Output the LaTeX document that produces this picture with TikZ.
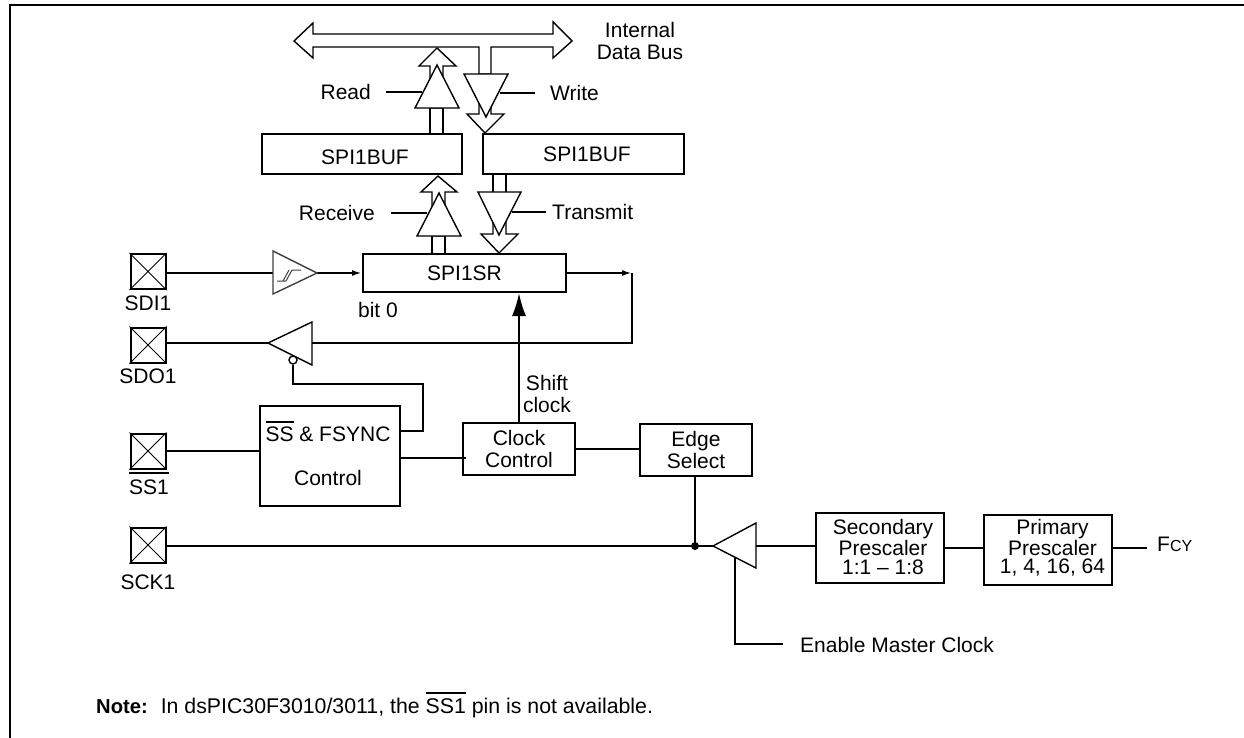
\documentclass[tikz,border=0pt]{standalone}
\usepackage{fontspec}
\setmainfont{Liberation Sans}
\usetikzlibrary{arrows.meta}
\newcommand{\barred}[2]{\setbox0=\hbox{#2}\rlap{\rule[#1]{\wd0}{1.8pt}}\box0\relax}
\tikzset{
  wire/.style={line width=2pt},
  thinw/.style={line width=1.4pt},
  block/.style={draw, line width=2pt, inner sep=0pt, fill=white, align=center, font=\fontsize{21}{21.5}\selectfont},
  pin/.style={draw, line width=2pt, inner sep=0pt, minimum width=35pt, minimum height=35pt},
  lbl/.style={inner sep=0pt, align=center, font=\fontsize{21}{21.5}\selectfont},
  tightlbl/.style={inner sep=0pt, align=center, font=\fontsize{21}{18.7}\selectfont},
  hollow/.style={draw, line width=1.4pt, fill=white, line join=miter},
  smallhead/.style={-{Latex[length=10pt,width=6pt]}},
}
\begin{document}
\begin{tikzpicture}[x=1pt,y=-1pt]
    \useasboundingbox (0,0) rectangle (1244,738);
    \draw[line width=2pt] (10,738) -- (10,5.5) -- (1244,5.5);

    % boxes
    \node[block, minimum width=200pt, minimum height=40pt] (bufr) at (362,154) {};
    \node[block, minimum width=201pt, minimum height=40pt] (bufw) at (583.5,154) {};
    \node[lbl] (bufrtext) at (365,157) {SPI1BUF};
    \node[lbl] (bufwtext) at (587,154) {SPI1BUF};
    \node[block, minimum width=203pt, minimum height=38pt] (sr) at (464.5,273) {SPI1SR};
    \node[block, minimum width=140pt, minimum height=100pt] (ssctl) at (330,456) {};
    \node[lbl, anchor=base] (sstext) at (328,441.5) {\barred{18.5pt}{SS} \& FSYNC};
    \node[lbl] (ctltext) at (328,478) {Control};
    \node[block, minimum width=112pt, minimum height=52pt] (clk) at (519,449) {Clock\\Control};
    \node[block, minimum width=112pt, minimum height=52pt] (edge) at (696,450) {Edge\\Select};
    \node[block, minimum width=128pt, minimum height=70pt] (sec) at (880,548) {};
    \node[block, minimum width=128pt, minimum height=70pt] (pri) at (1048,550) {};
    \node[tightlbl] (sectext) at (883,547) {Secondary\\Prescaler\\1:1 -- 1:8};
    \node[tightlbl] (pritext) at (1052.5,548) {Primary\\Prescaler\\1, 4, 16, 64};

    % pins
    \node[pin] (sdi) at (148,271.5) {};
    \node[pin] (sdo) at (148,345) {};
    \node[pin] (ss) at (148,451) {};
    \node[pin] (sck) at (148,545) {};
    \foreach \p in {sdi,sdo,ss,sck} \draw[line width=1pt] (\p.north west) -- (\p.south east) (\p.north east) -- (\p.south west);
    \node[lbl, anchor=base] (sdilbl) at (148,310.5) {SDI1};
    \node[lbl, anchor=base] (sdolbl) at (148,383.5) {SDO1};
    \node[lbl, anchor=base] (sslbl) at (149,494.5) {\barred{20.5pt}{SS1}};
    \node[lbl, anchor=base] (scklbl) at (148,589.5) {SCK1};

    % data bus
    \draw[hollow] (294,41) -- (313,23) -- (313,34) -- (553,34) -- (553,22) -- (572,41) -- (553,58) -- (553,47)
      -- (491,47) -- (491,74) -- (479,74) -- (479,47) -- (313,47) -- (313,58) -- cycle;
    \node[lbl] (bustext) at (640,41) {Internal\\Data Bus};

    % read path
    \coordinate (rdtip) at (437,48);
    \draw[hollow] (rdtip) -- (456,66) -- (443,66) -- (443,108) -- (430,108) -- (430,66) -- (419,66) -- cycle;
    \draw[wire] (430,108) -- (430,134) (443,108) -- (443,134);
    \draw[hollow] (437,65) -- (459,108) -- (415,108) -- cycle;
    \coordinate (rdin) at (422,92);
    \node[lbl, anchor=east] (rdtext) at (371,92) {Read};
    \draw[wire] (386,92) -- (rdin);

    % write path
    \coordinate (wrtip) at (485,133);
    \draw[hollow] (wrtip) -- (467,114) -- (479,114) -- (479,100) -- (491,100) -- (491,114) -- (504,114) -- cycle;
    \draw[hollow] (464,74) -- (508,74) -- (486,117) -- cycle;
    \coordinate (wrin) at (500,93);
    \node[lbl, anchor=west] (wrtext) at (550,93) {Write};
    \draw[wire] (wrin) -- (535,93);

    % receive path
    \coordinate (rxtip) at (438,176);
    \draw[hollow] (rxtip) -- (457,192) -- (445,192) -- (445,236) -- (432,236) -- (432,192) -- (421,192) -- cycle;
    \draw[wire] (432,236) -- (432,254) (445,236) -- (445,254);
    \draw[hollow] (439,193) -- (461,236) -- (417,236) -- cycle;
    \coordinate (rxin) at (427,213);
    \node[lbl, anchor=east] (rxtext) at (375,213) {Receive};
    \draw[wire] (391,213) -- (rxin);

    % transmit path
    \coordinate (txtip) at (499,253);
    \draw[wire] (493,174) -- (493,192) (506,174) -- (506,192);
    \draw[hollow] (txtip) -- (481,234) -- (493,234) -- (493,220) -- (506,220) -- (506,234) -- (518,234) -- cycle;
    \draw[hollow] (478,192) -- (521,192) -- (499,235) -- cycle;
    \coordinate (txin) at (512,212);
    \node[lbl, anchor=west] (txtext) at (552,212) {Transmit};
    \draw[wire] (txin) -- (546,212);

    % schmitt input
    \coordinate (stin) at (273,273);
    \coordinate (stout) at (317,273);
    \draw[wire] (sdi.east |- stin) -- (stin);
    \draw[wire, smallhead] (stout) -- (sr.west |- stout);
    \draw[thinw, draw=black!75] (stin |- 0,251) -- (stout) -- (stin |- 0,294) -- cycle;
    \draw[line width=1pt, draw=black!75] (277,281) -- (286,281) -- (292,270) -- (301,270) (283,281) -- (289,270);

    % output loop
    \coordinate (srcorner) at (632,273);
    \coordinate (sdobase) at (312,343);
    \coordinate (sdotip) at (268,343);
    \draw[wire, smallhead] (sr.east |- srcorner) -- (srcorner);
    \draw[wire] (srcorner) -- (srcorner |- sdobase) -- (sdobase);
    \draw[wire] (sdotip) -- (sdotip -| sdo.east);
    \draw[thinw] (sdotip) -- (312,322) -- (312,365) -- cycle;
    \node[draw, thinw, circle, fill=white, inner sep=0pt, minimum size=8pt] (oe) at (293,360) {};
    \coordinate (sstap) at (ssctl.east |- 0,431);
    \draw[wire] (oe.south) -- (293,384) -- (423,384) -- (423,431) -- (sstap);

    % clock section
    \draw[wire] (ss.east) -- (ssctl.west |- ss.east);
    \draw[wire] (ssctl.east |- 0,458) -- (466,458);
    \draw[wire] (clk.east |- 0,449) -- (edge.west |- 0,449);
    \draw[wire, -{Latex[length=23pt,width=14pt]}] (clk.north) -- (sr.south -| clk.north);
    \node[lbl] (shifttext) at (547,394) {Shift\\clock};
    \node[lbl] (bittext) at (378,310) {bit 0};

    \coordinate (mtip) at (713,546);
    \coordinate (mbase) at (756,546);
    \coordinate (mdot) at (695,546);
    \coordinate (enturn) at (735,644);
    \coordinate (enend) at (783,644);
    \draw[wire] (sck.east |- mtip) -- (mtip);
    \draw[wire] (edge.south -| mdot) -- (mdot);
    \fill (mdot) circle (4pt);
    \draw[thinw] (mtip) -- (mbase |- 0,523) -- (mbase |- 0,568) -- cycle;
    \draw[wire] (mbase) -- (sec.west |- mbase);
    \draw[wire] (735,558) -- (enturn) -- (enend);
    \node[lbl, anchor=west] (entext) at (800,645) {Enable Master Clock};
    \draw[wire] (sec.east |- 0,548) -- (pri.west |- 0,548);
    \coordinate (fcy) at (1147,548);
    \draw[wire] (pri.east |- fcy) -- (fcy);
    \node[lbl, anchor=west] (fcytext) at (1157,544) {F{\fontsize{16}{16}\selectfont CY}};

    \node[anchor=base west, inner sep=0pt, font=\fontsize{21.3}{22}\selectfont] (note) at (96,713) {{\fontsize{20.2}{22}\selectfont\textbf{Note:}}\hspace{13pt}In dsPIC30F3010/3011, the \barred{19.5pt}{SS1} pin is not available.};
\end{tikzpicture}
\end{document}
